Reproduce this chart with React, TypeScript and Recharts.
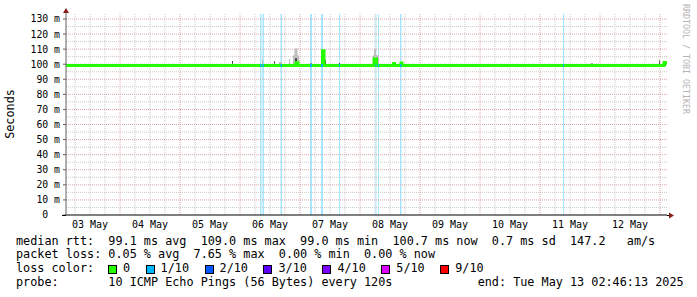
import { ComposedChart, Line, Area, XAxis, YAxis, ReferenceLine } from "recharts";

// x values are hours counted from 03 May 00:00
const dayLabels = ["03 May", "04 May", "05 May", "06 May", "07 May", "08 May", "09 May", "10 May", "11 May", "12 May"];
const dayNoon = [12, 36, 60, 84, 108, 132, 156, 180, 204, 228];
const midnights = [24, 48, 72, 96, 120, 144, 168, 192, 216, 240];
const sixHours = [0, ...midnights].flatMap((d) => [d + 6, d + 12, d + 18]).filter((h) => h < 242.8);

const msTicks = [0, 10, 20, 30, 40, 50, 60, 70, 80, 90, 100, 110, 120, 130];
const msHalf = [5, 15, 25, 35, 45, 55, 65, 75, 85, 95, 105, 115, 125];
const yTop = 133.3;

// median rtt, step points: [hour, ms]
const medianSteps: [number, number][] = [
  [2.4, 99.1],
  [94.4, 101.0],
  [95.2, 99.1],
  [105.0, 109.0],
  [105.6, 99.1],
  [125.6, 103.5],
  [126.6, 99.1],
  [133.4, 100.4],
  [133.8, 99.1],
  [136.4, 100.8],
  [136.8, 99.1],
  [241.6, 101.2],
  [242.2, 100.7],
  [242.8, 100.7],
];

// periods with 1/10 packet loss: [hour, duration h, median ms]
const lossPeriods: [number, number, number][] = [
  [80.0, 0.6, 99.1],
  [81.0, 0.6, 99.1],
  [88.2, 0.6, 99.1],
  [100.0, 0.8, 99.1],
  [104.4, 0.8, 99.1],
  [111.6, 0.4, 99.1],
  [126.2, 0.4, 99.1],
  [127.2, 0.4, 99.1],
  [136.0, 0.6, 99.1],
  [201.2, 0.4, 99.1],
];

// smoke (spread of the pings): [hour, duration h, low ms, high ms]
const smokeLight: [number, number, number, number][] = [
  [80.8, 0.4, 99, 102.8],
  [87.6, 1.2, 99, 101.5],
  [91.6, 0.4, 99, 103.5],
  [93.2, 2.4, 99, 106],
  [93.8, 1.2, 99, 110.5],
  [125.2, 2.4, 99, 106],
  [125.6, 0.8, 99, 110],
  [214.6, 0.4, 99, 100.5],
  [239.6, 0.4, 99, 103],
];
const smokeDark: [number, number, number, number][] = [
  [68.8, 0.4, 99, 102.2],
  [85.6, 0.4, 99, 102],
  [94.0, 0.8, 99, 104],
  [100.2, 0.4, 99, 100.8],
  [104.4, 0.4, 99, 109],
  [106.0, 0.4, 99, 103],
  [111.6, 0.4, 99, 100.8],
  [125.2, 0.4, 99, 104.5],
  [126.4, 0.4, 99, 104.5],
  [133.6, 0.4, 99, 100.8],
  [136.6, 0.4, 99, 101.5],
  [212.6, 0.4, 99, 100.8],
  [239.6, 0.4, 99, 102.5],
  [242.0, 0.4, 99, 101.8],
];

const lossColors = ["#26ff00", "#00b8ff", "#0059ff", "#5e00ff", "#7e00ff", "#dd00ff", "#ff0000"];
const lossLabels = ["0", "1/10", "2/10", "3/10", "4/10", "5/10", "9/10"];

const legendRows = [
  "median rtt:  99.1 ms avg  109.0 ms max  99.0 ms min  100.7 ms now  0.7 ms sd  147.2   am/s",
  "packet loss: 0.05 % avg  7.65 % max  0.00 % min  0.00 % now",
  "loss color:",
  "probe:       10 ICMP Echo Pings (56 Bytes) every 120s            end: Tue May 13 02:46:13 2025",
];

const rects = (list: [number, number, number, number][]) =>
  list.flatMap(([h, w, lo, hi]) => [
    { h, r: [lo, hi] },
    { h: h + w, r: [lo, hi] },
    { h: h + w, r: null },
  ]);

const medianData = medianSteps.map(([h, v]) => ({ h, v }));
const lossLine = lossPeriods.flatMap(([h, w, v]) => [
  { h, v },
  { h: h + w, v },
  { h: h + w, v: null },
]);
const lossBg = lossPeriods.flatMap(([h, w]) => [
  { h, r: [0, yTop] },
  { h: h + w, r: [0, yTop] },
  { h: h + w, r: null },
]);

const mono = '"DejaVu Sans Mono", monospace';
const rowTop = 234.8;
const rowH = 13.67;

export default function App() {
  return (
    <div
      style={{
        position: "absolute",
        left: 0,
        top: 0,
        width: 697,
        height: 297,
        background: "#fff",
        fontFamily: mono,
        overflow: "hidden",
      }}
    >
      <div style={{ position: "absolute", left: 0, top: 0 }}>
        <ComposedChart width={697} height={232} margin={{ top: 14, right: 30, bottom: 0, left: 6 }}>
          <XAxis
            dataKey="h"
            type="number"
            domain={[2.4, 242.8]}
            allowDataOverflow
            ticks={dayNoon}
            tickFormatter={(_v, i) => dayLabels[i]}
            tickLine={false}
            tickSize={3}
            tickMargin={3}
            height={17}
            axisLine={{ stroke: "#000" }}
            tick={{ fontSize: 10, fill: "#000", fontFamily: mono }}
          />
          <YAxis
            type="number"
            domain={[0, yTop]}
            allowDataOverflow
            ticks={msTicks}
            interval={0}
            width={60}
            tickSize={3}
            tickMargin={3}
            tickFormatter={(v) => (v === 0 ? "0\u00a0\u00a0" : `${v} m`)}
            axisLine={{ stroke: "#606060" }}
            tickLine={{ stroke: "#606060" }}
            tick={{ fontSize: 9.8, fill: "#000", fontFamily: mono }}
          />
          {msHalf.map((v) => (
            <ReferenceLine key={"yh" + v} y={v} stroke="#c8c8c8" strokeDasharray="1 1" />
          ))}
          {sixHours.map((h) => (
            <ReferenceLine key={"xm" + h} x={h} stroke="#c8c8c8" strokeDasharray="1 1" />
          ))}
          {msTicks.slice(1).map((v) => (
            <ReferenceLine key={"y" + v} y={v} stroke="#d9a6a6" strokeDasharray="1 1" />
          ))}
          {midnights.map((h) => (
            <ReferenceLine key={"x" + h} x={h} stroke="#d9a6a6" strokeDasharray="1 1" />
          ))}
          <Area
            data={lossBg}
            dataKey="r"
            type="linear"
            stroke="none"
            fill="#00b8ff"
            fillOpacity={0.35}
            isAnimationActive={false}
            activeDot={false}
          />
          <Area
            data={rects(smokeLight)}
            dataKey="r"
            type="linear"
            stroke="none"
            fill="#bdbdbd"
            fillOpacity={1}
            isAnimationActive={false}
            activeDot={false}
          />
          <Area
            data={rects(smokeDark)}
            dataKey="r"
            type="linear"
            stroke="none"
            fill="#444"
            fillOpacity={1}
            isAnimationActive={false}
            activeDot={false}
          />
          <Line
            data={medianData}
            dataKey="v"
            type="stepAfter"
            stroke="#26ff00"
            strokeWidth={3}
            dot={false}
            activeDot={false}
            isAnimationActive={false}
          />
          <Line
            data={lossLine}
            dataKey="v"
            type="linear"
            stroke="#00b8ff"
            strokeWidth={3}
            dot={false}
            activeDot={false}
            isAnimationActive={false}
          />
        </ComposedChart>
      </div>

      <svg width={697} height={297} style={{ position: "absolute", left: 0, top: 0, pointerEvents: "none" }}>
        <line x1={66} y1={14} x2={66} y2={11} stroke="#606060" />
        <line x1={62} y1={215.5} x2={66} y2={215.5} stroke="#000" />
        <line x1={667} y1={215.5} x2={670} y2={215.5} stroke="#000" />
        <polygon points="63,13 69,13 66,8" fill="#8b1c1c" />
        <polygon points="669,212.5 669,218.5 674,215.5" fill="#8b1c1c" />
      </svg>

      <div
        style={{
          position: "absolute",
          left: 10,
          top: 114,
          transform: "translate(-50%, -50%) rotate(-90deg)",
          fontSize: 11.8,
          whiteSpace: "nowrap",
          color: "#000",
        }}
      >
        Seconds
      </div>

      <div
        style={{
          position: "absolute",
          left: 681,
          top: 4,
          writingMode: "vertical-rl",
          fontSize: 8.3,
          color: "#b4b4b4",
          whiteSpace: "nowrap",
        }}
      >
        RRDTOOL / TOBI OETIKER
      </div>

      {legendRows.map((row, i) => (
        <div
          key={i}
          style={{
            position: "absolute",
            left: 16,
            top: rowTop + i * rowH,
            height: rowH,
            fontSize: 11.8,
            lineHeight: rowH + "px",
            whiteSpace: "pre",
            color: "#000",
          }}
        >
          {row}
        </div>
      ))}

      <div
        style={{
          position: "absolute",
          left: 108,
          top: rowTop + 2 * rowH,
          height: rowH,
          display: "flex",
          alignItems: "center",
          fontSize: 11.8,
          lineHeight: rowH + "px",
          whiteSpace: "pre",
        }}
      >
        {lossLabels.map((lab, i) => (
          <div key={lab} style={{ display: "flex", alignItems: "center", marginRight: 15.5 }}>
            <div
              style={{
                width: 9,
                height: 9,
                boxSizing: "border-box",
                border: "1px solid #000",
                background: lossColors[i],
                marginRight: 6,
                marginTop: 1,
              }}
            />
            <span>{lab}</span>
          </div>
        ))}
      </div>
    </div>
  );
}
